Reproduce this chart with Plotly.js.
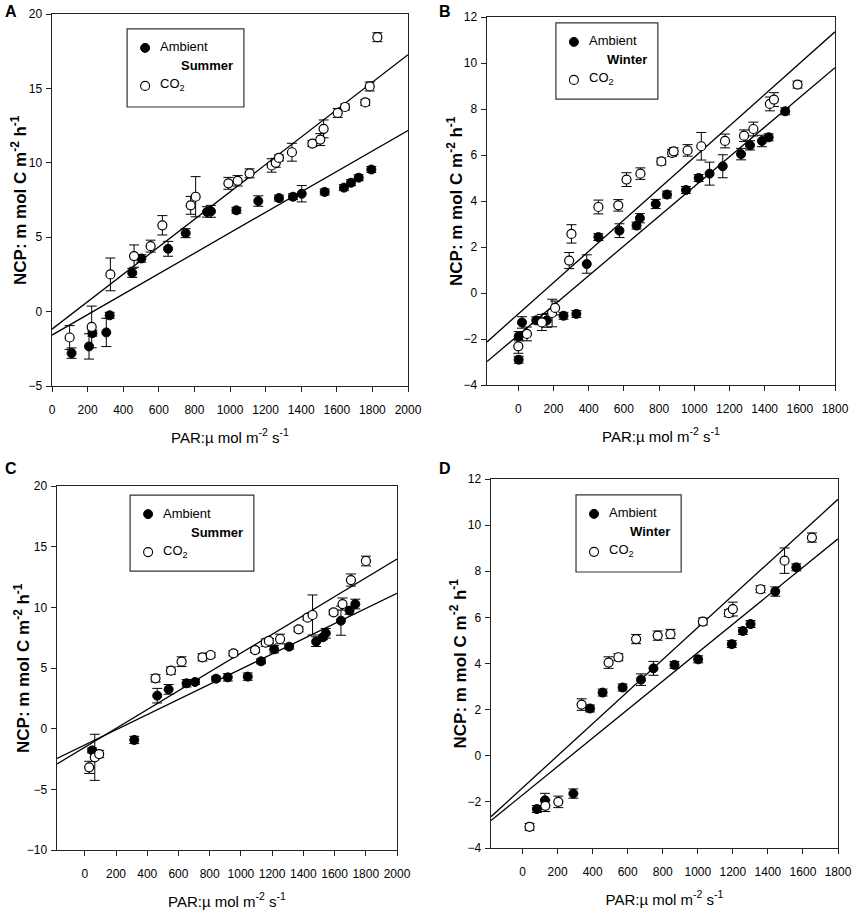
<!DOCTYPE html>
<html>
<head>
<meta charset="utf-8">
<script src="https://cdn.plot.ly/plotly-3.0.1.min.js"></script>
<style>
  html, body { margin: 0; padding: 0; background: #fff; }
  #chart { width: 856px; height: 921px; }
</style>
</head>
<body>
<div id="chart"></div>
<script>
// values (PAR, NCP, error)
// A: summer
const aCo2Par = [99, 223, 328, 461, 554, 620, 779, 807, 991, 1043, 1110, 1234, 1257, 1275, 1348, 1463, 1507, 1526, 1605, 1646, 1760, 1785, 1828];
const aCo2Ncp = [-1.74, -1.03, 2.5, 3.73, 4.4, 5.8, 7.14, 7.72, 8.62, 8.79, 9.29, 9.82, 10.0, 10.33, 10.71, 11.29, 11.56, 12.28, 13.35, 13.75, 14.06, 15.13, 18.44];
const aCo2Err = [0.8, 1.4, 1.1, 0.75, 0.4, 0.65, 0.6, 1.35, 0.4, 0.35, 0.3, 0.45, 0.3, 0.2, 0.6, 0.2, 0.4, 0.6, 0.3, 0.2, 0.2, 0.3, 0.3];
const aAmbPar = [110, 208, 227, 305, 324, 451, 502, 652, 751, 871, 893, 1036, 1159, 1275, 1354, 1403, 1532, 1640, 1680, 1723, 1794];
const aAmbNcp = [-2.79, -2.34, -1.45, -1.4, -0.25, 2.6, 3.57, 4.22, 5.27, 6.7, 6.74, 6.81, 7.43, 7.63, 7.72, 7.92, 8.04, 8.33, 8.66, 9.0, 9.55];
const aAmbErr = [0.35, 0.85, 0.2, 0.95, 0.2, 0.3, 0.25, 0.5, 0.3, 0.35, 0.4, 0.2, 0.35, 0.2, 0.2, 0.55, 0.2, 0.2, 0.2, 0.2, 0.2];

// B: winter
const bCo2Par = [0, 49, 134, 192, 209, 289, 302, 455, 568, 615, 694, 813, 874, 883, 962, 1040, 1175, 1283, 1336, 1430, 1453, 1587];
const bCo2Ncp = [-2.32, -1.78, -1.28, -0.87, -0.65, 1.41, 2.57, 3.74, 3.81, 4.93, 5.19, 5.72, 6.09, 6.16, 6.2, 6.38, 6.61, 6.84, 7.13, 8.22, 8.41, 9.06];
const bCo2Err = [0.3, 0.3, 0.35, 0.6, 0.3, 0.35, 0.4, 0.3, 0.25, 0.3, 0.25, 0.15, 0.15, 0.15, 0.25, 0.6, 0.3, 0.25, 0.3, 0.3, 0.3, 0.15];
const bAmbPar = [2, 2, 21, 102, 162, 257, 330, 389, 455, 575, 672, 691, 781, 845, 953, 1025, 1087, 1162, 1266, 1317, 1385, 1423, 1517];
const bAmbNcp = [-2.9, -1.88, -1.28, -1.19, -1.19, -0.99, -0.91, 1.26, 2.43, 2.71, 2.93, 3.25, 3.87, 4.28, 4.48, 5.0, 5.19, 5.51, 6.04, 6.42, 6.61, 6.77, 7.9];
const bAmbErr = [0.15, 0.2, 0.25, 0.15, 0.3, 0.15, 0.15, 0.4, 0.15, 0.3, 0.15, 0.2, 0.2, 0.15, 0.15, 0.15, 0.5, 0.5, 0.25, 0.2, 0.25, 0.15, 0.15];

// C: summer
const cCo2Par = [28, 64, 92, 453, 552, 620, 754, 806, 952, 1091, 1159, 1179, 1251, 1369, 1427, 1459, 1594, 1651, 1705, 1801];
const cCo2Ncp = [-3.19, -2.36, -2.09, 4.15, 4.78, 5.52, 5.88, 6.07, 6.21, 6.48, 7.09, 7.23, 7.39, 8.19, 9.15, 9.37, 9.59, 10.27, 12.25, 13.82];
const cCo2Err = [0.5, 1.9, 0.3, 0.3, 0.3, 0.4, 0.3, 0.2, 0.2, 0.2, 0.3, 0.2, 0.4, 0.2, 0.2, 1.65, 0.2, 0.5, 0.5, 0.4];
const cAmbPar = [47, 317, 464, 537, 652, 706, 841, 916, 1044, 1129, 1213, 1309, 1482, 1525, 1544, 1641, 1696, 1733];
const cAmbNcp = [-1.79, -0.93, 2.72, 3.24, 3.74, 3.85, 4.12, 4.23, 4.29, 5.55, 6.54, 6.76, 7.17, 7.53, 7.86, 8.9, 9.73, 10.27];
const cAmbErr = [0.2, 0.3, 0.6, 0.4, 0.3, 0.2, 0.2, 0.3, 0.3, 0.2, 0.3, 0.2, 0.4, 0.2, 0.4, 1.2, 0.3, 0.4];

// D: winter
const dCo2Par = [40, 130, 204, 337, 491, 547, 648, 771, 844, 1029, 1177, 1200, 1358, 1495, 1651];
const dCo2Ncp = [-3.08, -2.17, -2.0, 2.22, 4.04, 4.27, 5.06, 5.21, 5.28, 5.82, 6.18, 6.36, 7.22, 8.46, 9.46];
const dCo2Err = [0.15, 0.25, 0.25, 0.25, 0.25, 0.15, 0.2, 0.2, 0.2, 0.15, 0.15, 0.3, 0.15, 0.55, 0.2];
const dAmbPar = [82, 128, 290, 385, 457, 571, 676, 747, 867, 1002, 1194, 1257, 1301, 1442, 1562];
const dAmbNcp = [-2.31, -1.93, -1.64, 2.05, 2.74, 2.96, 3.3, 3.79, 3.94, 4.18, 4.84, 5.41, 5.71, 7.12, 8.17];
const dAmbErr = [0.15, 0.3, 0.2, 0.15, 0.15, 0.15, 0.25, 0.3, 0.15, 0.15, 0.15, 0.15, 0.15, 0.2, 0.15];

// regression lines [intercept, slope]
const aCo2Fit = [-1.18, 0.00922];
const aAmbFit = [-1.58, 0.006875];
const bCo2Fit = [-0.914, 0.006816];
const bAmbFit = [-1.83, 0.00646];
const cCo2Fit = [-1.53, 0.007755];
const cAmbFit = [-1.34, 0.006244];
const dCo2Fit = [-1.39, 0.00695];
const dAmbFit = [-1.70, 0.00617];

const panelLetters = ['A', 'B', 'C', 'D'];
const panelSeasons = ['Summer', 'Winter', 'Summer', 'Winter'];

const W = 856, H = 921;
const sans = '"Liberation Sans", Arial, sans-serif';

// plot boxes in pixels: [left, right, top, bottom]
const boxes = [[52, 408, 14, 386], [487, 835, 17, 385], [57, 397, 486, 850], [491, 838, 479, 848]];
// centre of the rotated y title, in pixels from the left
const yTitleX = [19, 455, 22, 458];
// legend boxes in axis-domain fractions: [x0, x1, y0, y1]
const legBoxes = [[0.211, 0.539, 0.750, 0.960], [0.198, 0.491, 0.777, 0.984], [0.215, 0.579, 0.766, 0.975], [0.245, 0.548, 0.748, 0.957]];

const traces = [];
const layout = {
  width: W, height: H,
  margin: { l: 0, r: 0, t: 0, b: 0 },
  paper_bgcolor: 'white', plot_bgcolor: 'white',
  showlegend: false,
  font: { family: sans, size: 12, color: 'black' },
  shapes: [], annotations: []
};

const addPanel = (i, co2x, co2y, co2e, ambx, amby, ambe, co2Fit, ambFit, xr, yr, ydt) => {
  const n = i + 1;
  const xa = n == 1 ? 'x' : 'x' + n;
  const ya = n == 1 ? 'y' : 'y' + n;
  const [l, r, t, b] = boxes[i];

  [co2Fit, ambFit].forEach(f => {
    traces.push({
      x: xr, y: xr.map(v => f[0] + f[1] * v),
      xaxis: xa, yaxis: ya, mode: 'lines', hoverinfo: 'skip',
      line: { color: 'black', width: 1.3 }
    });
  });

  traces.push({
    x: ambx, y: amby, xaxis: xa, yaxis: ya, mode: 'markers', name: 'Ambient',
    marker: { symbol: 'circle', size: 9, color: 'black', line: { color: 'black', width: 1 } },
    error_y: { type: 'data', array: ambe, visible: true, color: 'black', thickness: 1, width: 5 }
  });
  traces.push({
    x: co2x, y: co2y, xaxis: xa, yaxis: ya, mode: 'markers', name: 'CO2',
    marker: { symbol: 'circle', size: 9, color: 'white', line: { color: 'black', width: 1.2 } },
    error_y: { type: 'data', array: co2e, visible: true, color: 'black', thickness: 1, width: 5 }
  });

  const axCommon = {
    showline: true, mirror: true, linecolor: '#222', linewidth: 1.4,
    ticks: 'outside', ticklen: 5, tickwidth: 1, tickcolor: '#222',
    showgrid: false, zeroline: false, fixedrange: true, tickangle: 0,
    tickfont: { family: sans, size: 12, color: 'black' }
  };

  layout['xaxis' + (n == 1 ? '' : n)] = Object.assign({}, axCommon, {
    anchor: ya, domain: [l / W, r / W], range: xr,
    tick0: 0, dtick: 200, ticklabelstandoff: 7,
    title: { text: 'PAR:\u00b5 mol m<sup>-2</sup> s<sup>-1</sup>', standoff: 16, font: { family: sans, size: 15, color: 'black' } }
  });
  layout['yaxis' + (n == 1 ? '' : n)] = Object.assign({}, axCommon, {
    anchor: xa, domain: [1 - b / H, 1 - t / H], range: yr,
    tick0: 0, dtick: ydt, ticklabelstandoff: 1
  });

  // y title as a rotated annotation so it sits where the original has it
  layout.annotations.push({
    text: '<b>NCP: m mol C m<sup>-2</sup> h<sup>-1</sup></b>', textangle: -90,
    xref: 'paper', yref: 'paper', x: yTitleX[i] / W, y: 1 - (t + b) / 2 / H,
    xanchor: 'center', yanchor: 'middle', showarrow: false,
    font: { family: sans, size: 17, color: 'black' }
  });

  // legend box drawn by hand, like the original
  const [bx0, bx1, by0, by1] = legBoxes[i];
  const xd = xa + ' domain', yd = ya + ' domain';
  layout.shapes.push({ type: 'rect', xref: xd, yref: yd, x0: bx0, x1: bx1, y0: by0, y1: by1, fillcolor: 'white', line: { color: '#333', width: 1.2 } });
  layout.shapes.push({ type: 'circle', xref: xd, yref: yd, xsizemode: 'pixel', ysizemode: 'pixel', xanchor: bx0, yanchor: by1, x0: 13.5, x1: 22.5, y0: -23.5, y1: -14.5, fillcolor: 'black', line: { color: 'black', width: 1 } });
  layout.shapes.push({ type: 'circle', xref: xd, yref: yd, xsizemode: 'pixel', ysizemode: 'pixel', xanchor: bx0, yanchor: by1, x0: 13.5, x1: 22.5, y0: -61.5, y1: -52.5, fillcolor: 'white', line: { color: 'black', width: 1.1 } });

  const ann = (text, x, xanchor, xshift, yshift, bold) => layout.annotations.push({
    text: bold ? '<b>' + text + '</b>' : text, xref: xd, yref: yd, x: x, y: by1,
    xanchor: xanchor, yanchor: 'middle', xshift: xshift, yshift: yshift, showarrow: false,
    font: { family: sans, size: 13, color: 'black' }
  });
  ann('Ambient', bx0, 'left', 31, -18);
  ann(panelSeasons[i], bx1, 'right', -9, -37, true);
  ann('CO<sub>2</sub>', bx0, 'left', 31, -56);

  layout.annotations.push({
    text: '<b>' + panelLetters[i] + '</b>', xref: 'paper', yref: 'paper',
    x: (i % 2 == 0 ? 3 : 437) / W, y: 1 - (i < 2 ? 11 : 468) / H,
    xanchor: 'left', yanchor: 'middle', showarrow: false,
    font: { family: sans, size: 16, color: 'black' }
  });
};

addPanel(0, aCo2Par, aCo2Ncp, aCo2Err, aAmbPar, aAmbNcp, aAmbErr, aCo2Fit, aAmbFit, [0, 2000], [-5, 20], 5);
addPanel(1, bCo2Par, bCo2Ncp, bCo2Err, bAmbPar, bAmbNcp, bAmbErr, bCo2Fit, bAmbFit, [-178, 1800], [-4, 12], 2);
addPanel(2, cCo2Par, cCo2Ncp, cCo2Err, cAmbPar, cAmbNcp, cAmbErr, cCo2Fit, cAmbFit, [-178, 2000], [-10, 20], 5);
addPanel(3, dCo2Par, dCo2Ncp, dCo2Err, dAmbPar, dAmbNcp, dAmbErr, dCo2Fit, dAmbFit, [-180, 1800], [-4, 12], 2);

Plotly.newPlot('chart', traces, layout, { displayModeBar: false, staticPlot: true });
</script>
</body>
</html>
